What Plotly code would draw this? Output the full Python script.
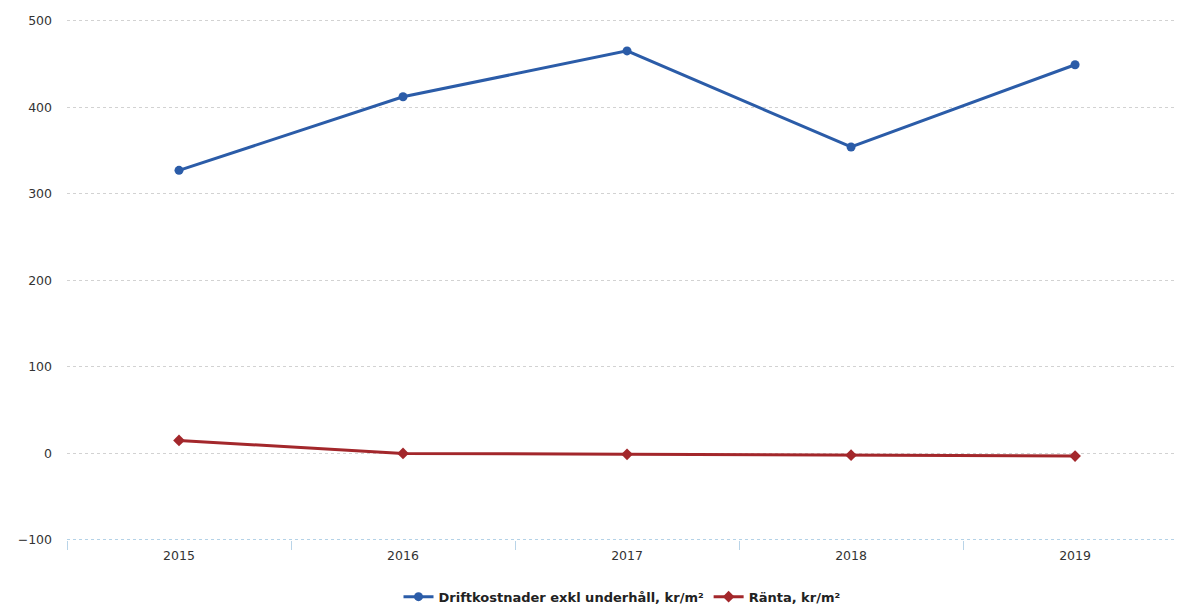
import plotly.graph_objects as go

years = ["2015", "2016", "2017", "2018", "2019"]
drift = [327, 412, 465, 354, 449]
ranta = [15, 0, -1, -2, -3]
ytick_vals = [-100, 0, 100, 200, 300, 400, 500]
name_drift = "Driftkostnader exkl underhåll, kr/m²"
name_ranta = "Ränta, kr/m²"

fig = go.Figure()
fig.add_trace(go.Scatter(
    x=years, y=drift, mode="lines+markers", name=name_drift,
    line=dict(color="#2b5ca8", width=3),
    marker=dict(symbol="circle", size=9, color="#2b5ca8"),
))
fig.add_trace(go.Scatter(
    x=years, y=ranta, mode="lines+markers", name=name_ranta,
    line=dict(color="#a3272b", width=3),
    marker=dict(symbol="diamond", size=9, color="#a3272b"),
))

fig.update_layout(
    width=1177, height=607,
    margin=dict(l=67, r=0, t=18, b=67, autoexpand=False),
    paper_bgcolor="white", plot_bgcolor="white",
    font=dict(family="DejaVu Sans", size=12, color="#333333"),
    showlegend=True,
    legend=dict(orientation="h", x=0.5, xanchor="center",
                yref="container", y=0.017, yanchor="middle",
                font=dict(family="DejaVu Sans", size=13, color="#222222", weight="bold"),
                itemwidth=30, traceorder="normal"),
    xaxis=dict(
        type="category", range=[-0.5, 4.455],
        showgrid=False, zeroline=False, showline=False,
        ticks="outside", tickson="boundaries", ticklen=9, tickcolor="#b9d4e8",
        tickfont=dict(size=12.5, color="#333333"), ticklabelstandoff=6,
    ),
    yaxis=dict(
        range=[-100, 503], tickvals=ytick_vals,
        showgrid=True, gridcolor="#d2d2d2", griddash="dot", gridwidth=1,
        zeroline=False, showline=False, ticks="",
        tickfont=dict(size=12.5, color="#333333"), ticklabelstandoff=14,
    ),
)
fig.add_shape(type="line", xref="paper", yref="y", x0=0, x1=1, y0=-100, y1=-100,
              line=dict(color="#9cc3e0", width=1.5, dash="dot"), layer="above")

fig.write_html("out.html")
